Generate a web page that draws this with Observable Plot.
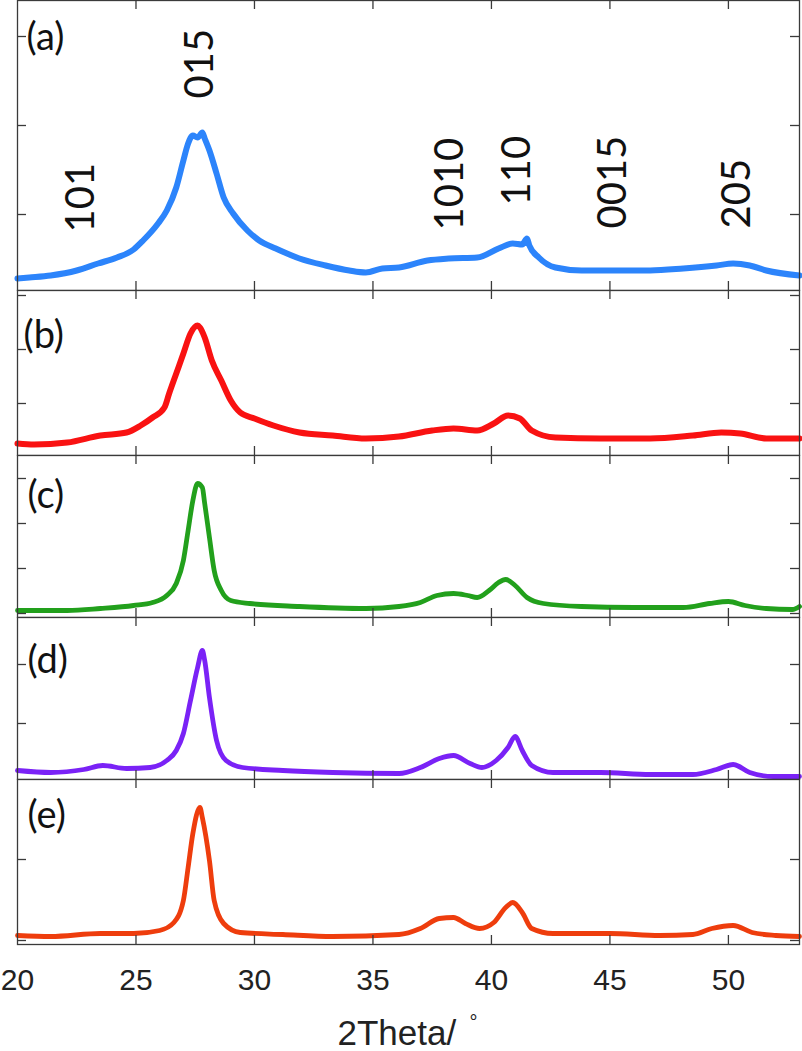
<!DOCTYPE html>
<html>
<head>
<meta charset="utf-8">
<script src="https://cdn.jsdelivr.net/npm/d3@7"></script>
<script src="https://cdn.jsdelivr.net/npm/@observablehq/plot@0.6"></script>
<style>
  html, body { margin: 0; padding: 0; background: #fff; }
  #chart { position: relative; width: 802px; height: 1051px; overflow: hidden; }
  #chart svg { position: absolute; left: 0; display: block; background: transparent; }
</style>
</head>
<body>
<div id="chart"></div>
<script>
// ---- data (2θ in degrees, intensity in arbitrary units) ----
const thetaA = [20.0, 20.5, 21.4, 22.5, 23.4, 24.2, 24.9, 25.3, 25.9, 26.3, 26.7, 27.0, 27.2, 27.4, 27.6, 27.8, 27.9, 28.1, 28.4, 28.7, 29.1, 29.7, 30.2, 30.9, 31.9, 33.0, 34.0, 34.7, 35.4, 36.1, 37.3, 38.2, 39.4, 40.3, 40.9, 41.3, 41.5, 41.6, 42.0, 42.7, 43.8, 45.3, 46.7, 48.1, 49.5, 50.2, 50.9, 51.6, 53.0];
const intA   = [12, 13, 15, 20, 27, 33, 41, 50, 66, 80, 103, 130, 147, 155, 153, 158, 152, 140, 117, 93, 77, 60, 50, 42, 32, 25, 20, 18, 22, 23, 30, 32, 33, 42, 47, 46, 52, 45, 33, 23, 20, 20, 20, 22, 25, 27, 25, 20, 15];

const thetaB = [20.0, 20.7, 22.1, 23.5, 24.6, 25.2, 25.7, 26.2, 26.4, 26.7, 27.0, 27.3, 27.6, 27.7, 27.9, 28.2, 28.6, 29.0, 29.4, 30.0, 30.8, 31.9, 33.3, 34.7, 36.1, 37.5, 38.4, 39.4, 40.1, 40.7, 41.2, 41.7, 42.7, 44.6, 46.7, 48.5, 49.7, 50.5, 51.6, 53.0];
const intB   = [12, 11, 13, 20, 23, 30, 38, 48, 62, 82, 102, 122, 130, 128, 118, 95, 75, 55, 43, 37, 30, 23, 20, 17, 19, 25, 27, 25, 32, 40, 37, 25, 18, 17, 17, 20, 23, 22, 17, 17];

const thetaC = [20.0, 22.1, 23.5, 24.9, 25.7, 26.3, 26.7, 27.0, 27.2, 27.4, 27.6, 27.8, 27.9, 28.1, 28.3, 28.6, 29.0, 29.8, 31.9, 34.7, 36.1, 37.0, 37.7, 38.4, 39.0, 39.4, 39.9, 40.3, 40.6, 41.0, 41.5, 42.2, 43.8, 46.0, 48.1, 49.2, 50.0, 50.7, 51.6, 52.7, 53.0];
const intC   = [7, 7, 9, 12, 15, 22, 34, 57, 87, 117, 134, 130, 114, 80, 47, 27, 17, 14, 11, 9, 11, 15, 22, 24, 22, 20, 27, 35, 38, 32, 20, 14, 11, 10, 10, 14, 16, 12, 9, 8, 11];

const thetaD = [20.0, 21.4, 22.8, 23.6, 24.6, 25.6, 26.3, 26.7, 27.0, 27.3, 27.6, 27.8, 27.9, 28.1, 28.4, 28.8, 29.5, 31.2, 33.3, 36.1, 37.0, 37.8, 38.4, 39.1, 39.6, 40.2, 40.7, 41.0, 41.3, 41.7, 42.6, 44.6, 46.7, 48.5, 49.5, 50.2, 50.9, 51.9, 53.0];
const intD   = [9, 7, 10, 14, 11, 12, 19, 29, 46, 79, 112, 129, 119, 82, 39, 19, 12, 9, 7, 6, 12, 21, 24, 16, 12, 19, 32, 43, 29, 14, 7, 7, 5, 5, 10, 15, 7, 3, 3];

const thetaE = [20.0, 21.4, 23.5, 24.9, 26.0, 26.6, 27.0, 27.2, 27.4, 27.7, 27.8, 28.1, 28.3, 28.7, 29.4, 31.2, 33.3, 36.1, 37.0, 37.8, 38.4, 38.9, 39.5, 40.1, 40.6, 40.9, 41.3, 41.7, 42.6, 45.0, 47.1, 48.5, 49.3, 50.2, 51.0, 52.0, 53.0];
const intE   = [9, 8, 11, 11, 14, 22, 44, 77, 111, 137, 127, 84, 44, 21, 12, 10, 8, 10, 16, 26, 27, 21, 16, 22, 37, 42, 32, 16, 11, 11, 9, 10, 16, 19, 12, 9, 8];

const panelLabels = ["(a)", "(b)", "(c)", "(d)", "(e)"];
const colors = ["#2c84fb", "#f91212", "#22a01c", "#7a22f6", "#ee3d0d"];

// peak (hkl) labels in panel (a)
const peakNames = ["101", "015", "1010", "110", "0015", "205"];
const peakTheta = [22.70, 27.71, 38.24, 41.10, 45.15, 50.37];
const peakLabelY = [58, 192, 60, 85, 62, 62];

// axis ticks
const xTicks = [25, 30, 35, 40, 45, 50];
const xTickLabels = [20, 25, 30, 35, 40, 45, 50];
const yTicks = [[76, 165, 254], [52, 106, 160], [4, 49, 94, 139], [56, 115], [4, 85]];
const xLabel = "2Theta/";
const xUnit = "°";

// ---- layout ----
const W = 802, ML = 17, MR = 3;
const frameW = W - ML - MR;
const panelHeights = [290, 165, 162, 162, 165];
const labelDx = [9, 6, 10, 10, 10];
const labelDy = [49, 57, 52, 55, 48];
const axisColor = "#3a3a3a";
const tickLen = 9;

const series = [[thetaA, intA], [thetaB, intB], [thetaC, intC], [thetaD, intD], [thetaE, intE]];
const chart = document.getElementById("chart");

let panelTop = 0;
series.forEach(([th, it], i) => {
  const H = panelHeights[i];
  const last = i === series.length - 1;
  const mb = last ? 1051 - (panelTop + H) : 1;
  const data = th.map((t, j) => ({t, v: it[j]}));
  const marks = [
    Plot.line(data, {x: "t", y: "v", stroke: colors[i], strokeWidth: i < 2 ? 6 : 4.8, strokeLinejoin: "round", strokeLinecap: "round", curve: "monotone-x"}),
    Plot.frame({stroke: axisColor, strokeWidth: 1.3}),
    Plot.tickX(xTicks, {x: d => d, insetBottom: H - tickLen, stroke: axisColor, strokeWidth: 1.3}),
    Plot.tickX(xTicks, {x: d => d, insetTop: H - tickLen, stroke: axisColor, strokeWidth: 1.3}),
    Plot.tickY(yTicks[i], {y: d => d, insetRight: frameW - tickLen, stroke: axisColor, strokeWidth: 1.3}),
    Plot.tickY(yTicks[i], {y: d => d, insetLeft: frameW - tickLen, stroke: axisColor, strokeWidth: 1.3}),
    Plot.text([panelLabels[i]], {text: d => d, frameAnchor: "top-left", dx: labelDx[i], dy: labelDy[i], textAnchor: "start", lineAnchor: "bottom", fontSize: 38, fontFamily: "Lato", fill: "#111"})
  ];
  if (i === 0) {
    const peaks = peakNames.map((n, j) => ({n, t: peakTheta[j], v: peakLabelY[j]}));
    marks.push(Plot.text(peaks, {x: "t", y: "v", text: "n", rotate: -90, textAnchor: "start", lineAnchor: "middle", fontSize: 40, fontFamily: "Lato", fill: "#111"}));
  }
  if (last) {
    marks.push(Plot.text([xLabel], {text: d => d, frameAnchor: "bottom", dx: 337 - (ML + frameW / 2), dy: 100, textAnchor: "start", lineAnchor: "bottom", fontSize: 35, fontFamily: "Liberation Sans", fill: "#222"}));
    marks.push(Plot.text([xUnit], {text: d => d, frameAnchor: "bottom", dx: 473 - (ML + frameW / 2), dy: 84, textAnchor: "middle", lineAnchor: "bottom", fontSize: 20, fontFamily: "Liberation Sans", fill: "#222"}));
  }
  const svg = Plot.plot({
    width: W,
    height: 1 + H + mb,
    marginTop: 1,
    marginBottom: mb,
    marginLeft: ML,
    marginRight: MR,
    style: {fontFamily: "Liberation Sans", fontSize: "30px", color: "#222", background: "transparent"},
    x: last
      ? {domain: [20, 53], ticks: xTickLabels, tickSize: 0, tickPadding: 24, label: null, tickFormat: d => String(d)}
      : {domain: [20, 53], axis: null},
    y: {domain: [0, H], axis: null},
    marks
  });
  svg.style.top = (panelTop - 1) + "px";
  chart.appendChild(svg);
  panelTop += H;
});
</script>
</body>
</html>
